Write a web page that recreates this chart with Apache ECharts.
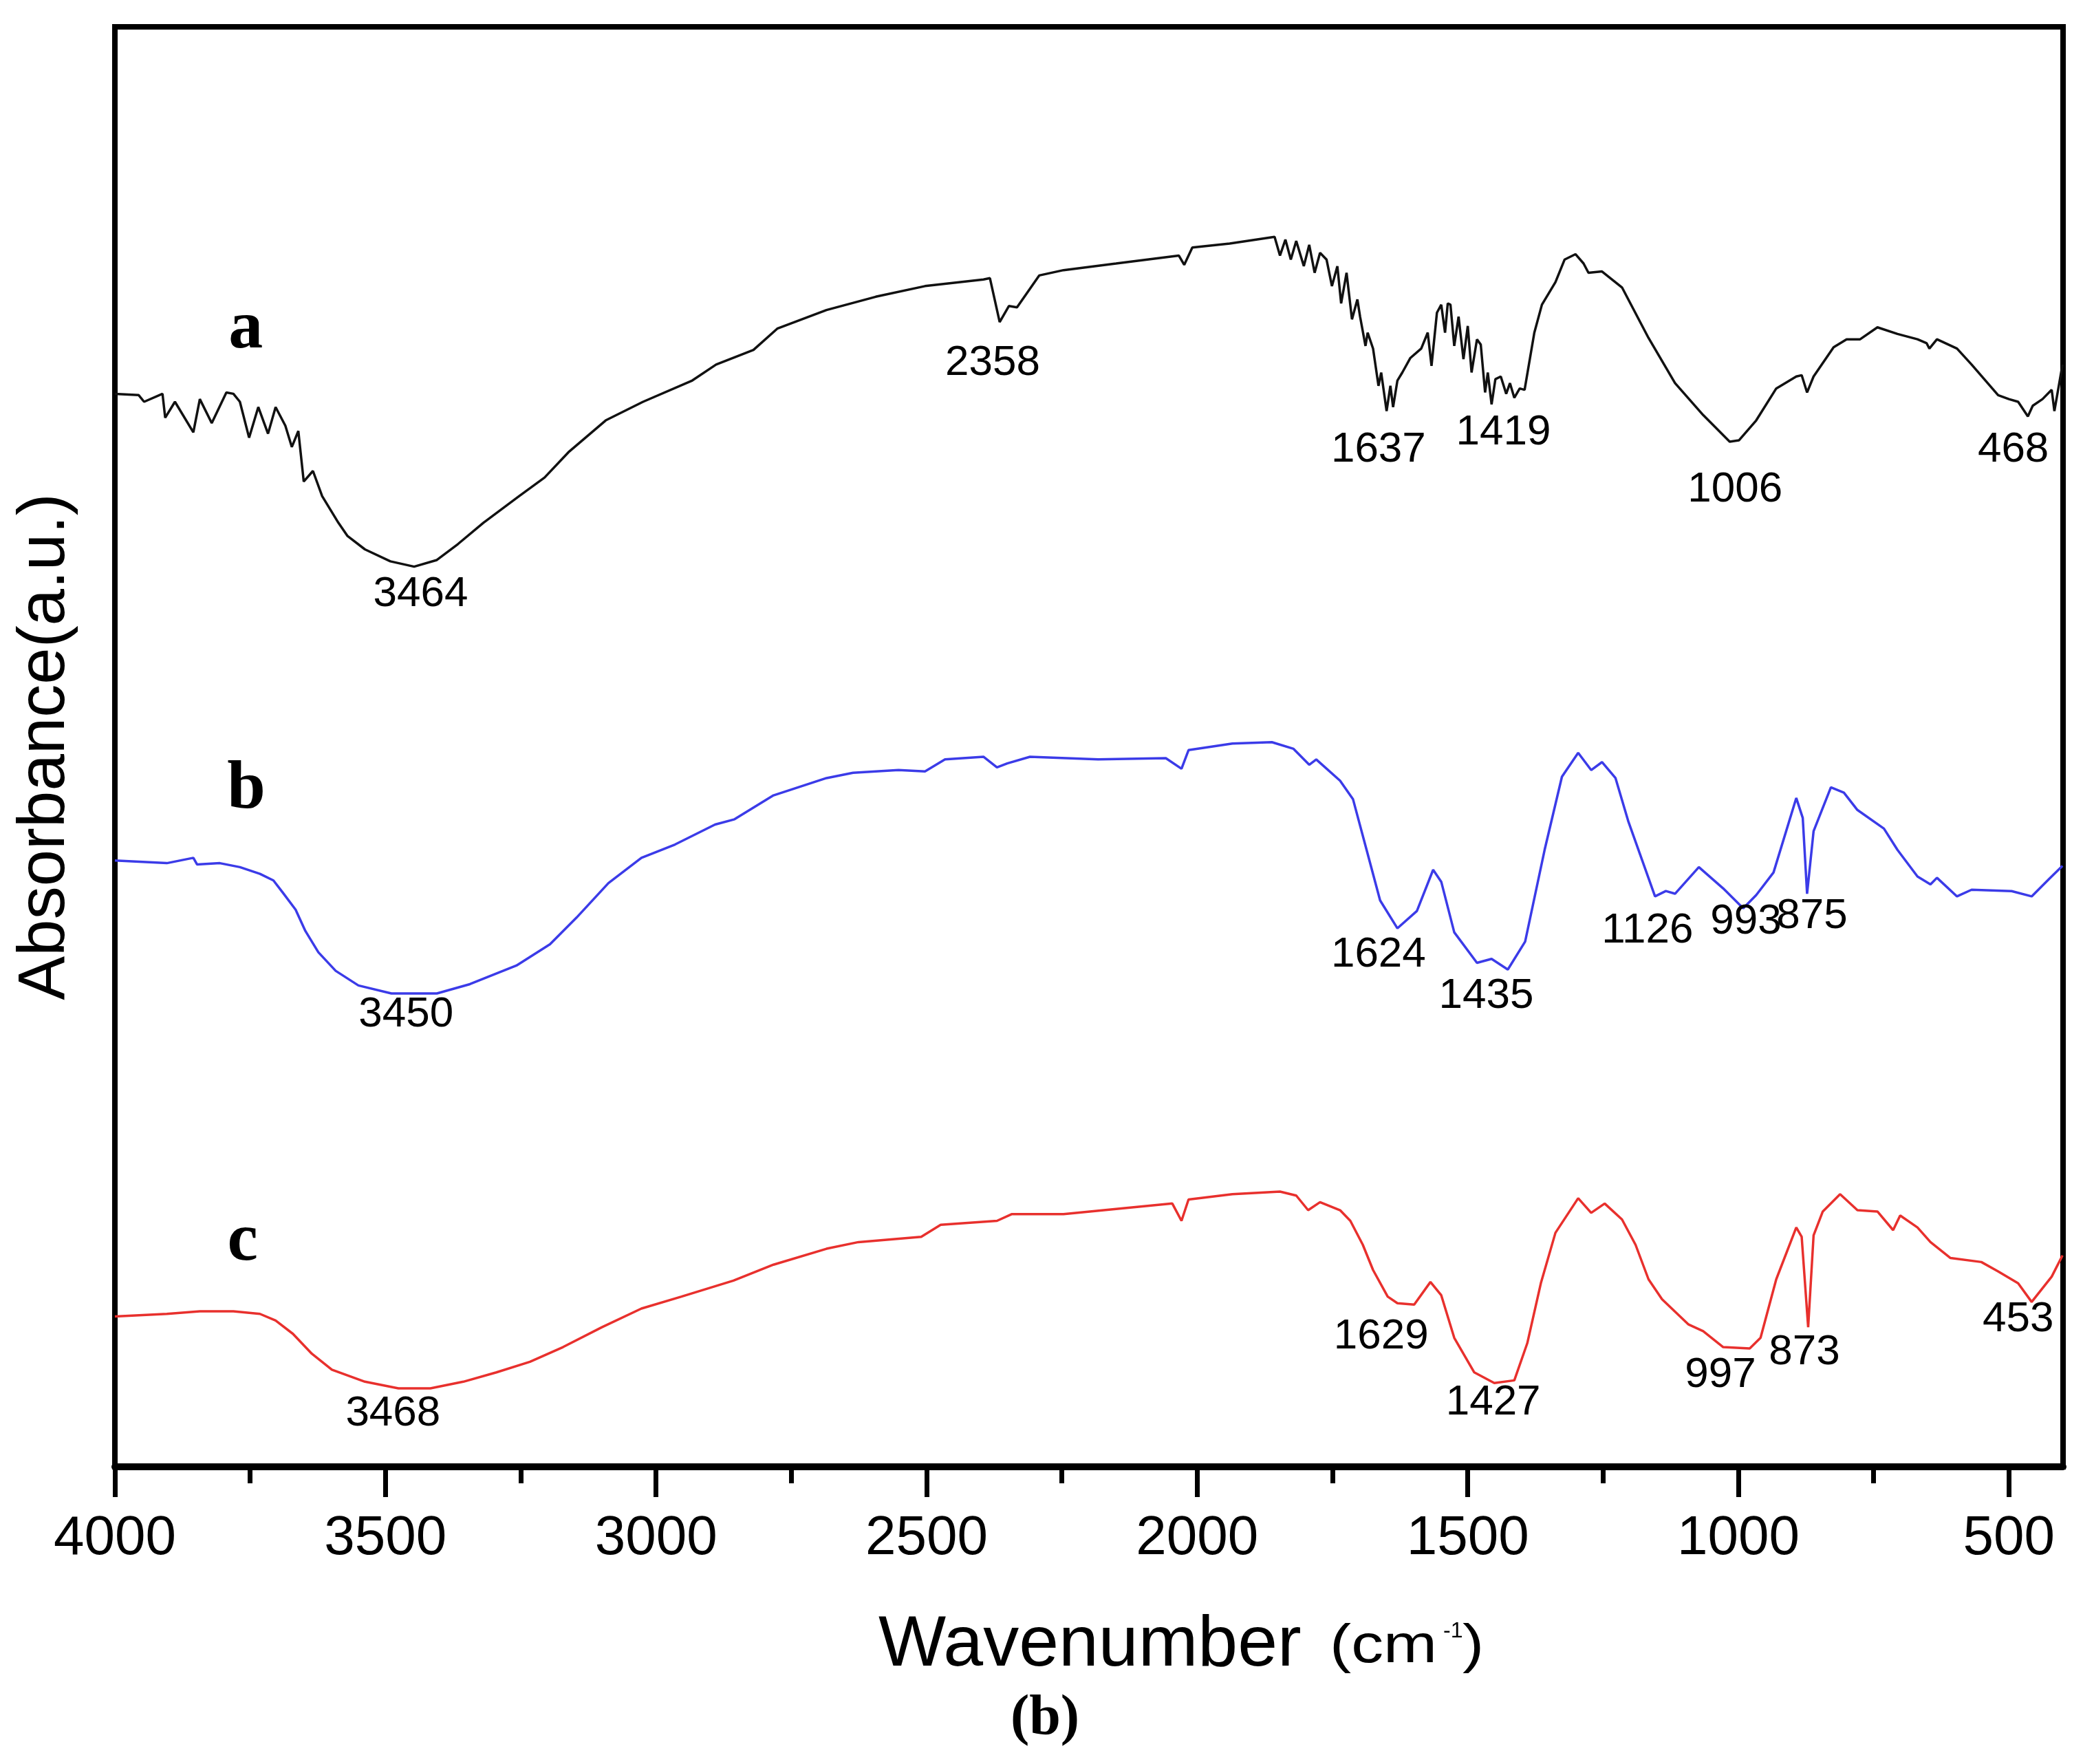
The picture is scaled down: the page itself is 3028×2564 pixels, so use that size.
<!DOCTYPE html>
<html>
<head>
<meta charset="utf-8">
<script src="https://cdn.jsdelivr.net/npm/echarts@6.0.0/dist/echarts.min.js"></script>
<style>
  html, body { margin: 0; padding: 0; background: #fff; }
  #chart { width: 3028px; height: 2564px; }
</style>
</head>
<body>
<div id="chart"></div>
<script>
// [wavenumber (cm-1), absorbance (a.u., offset per curve)]
const curveA = [
  [4000,80.7],[3956,80.6],[3946,80.1],[3912,80.7],[3907,78.9],[3889,80.1],[3855,77.8],[3843,80.3],
  [3821,78.5],[3794,80.8],[3781,80.7],[3769,80.1],[3752,77.4],[3735,79.7],[3717,77.7],[3703,79.7],
  [3685,78.3],[3673,76.7],[3661,77.9],[3651,74.1],[3634,74.9],[3617,73.0],[3587,71.0],[3570,70.0],
  [3538,69.0],[3491,68.1],[3447,67.7],[3405,68.2],[3366,69.4],[3319,71.0],[3253,73.0],[3206,74.4],
  [3162,76.3],[3093,78.7],[3024,80.1],[2933,81.7],[2889,82.9],[2820,84.0],[2776,85.6],[2685,87.0],
  [2594,88.0],[2503,88.8],[2395,89.3],[2383,89.4],[2365,86.1],[2348,87.3],[2333,87.2],[2292,89.6],
  [2247,90.0],[2150,90.5],[2034,91.1],[2024,90.4],[2009,91.7],[1940,92.0],[1874,92.4],[1857,92.5],[1847,91.1],
  [1837,92.3],[1827,90.8],[1817,92.2],[1803,90.3],[1793,91.9],[1783,89.8],[1773,91.3],[1761,90.8],
  [1751,88.8],[1741,90.3],[1734,87.5],[1724,89.8],[1714,86.3],[1704,87.8],[1699,86.5],[1689,84.3],
  [1685,85.3],[1675,84.1],[1665,81.3],[1660,82.3],[1650,79.4],[1643,81.3],[1638,79.7],[1630,81.7],
  [1621,82.3],[1606,83.4],[1586,84.1],[1574,85.3],[1567,82.8],[1557,86.8],[1549,87.4],[1542,85.3],
  [1537,87.5],[1532,87.4],[1525,84.3],[1517,86.5],[1508,83.3],[1500,85.8],[1493,82.3],[1483,84.8],
  [1476,84.4],[1468,80.8],[1463,82.3],[1456,79.9],[1449,81.8],[1439,82.0],[1429,80.7],[1422,81.5],
  [1414,80.4],[1404,81.1],[1395,81.0],[1377,85.3],[1363,87.4],[1338,89.1],[1321,90.8],[1301,91.2],
  [1286,90.5],[1277,89.8],[1252,89.9],[1215,88.7],[1166,84.9],[1117,81.5],[1065,79.1],[1016,77.1],
  [999,77.2],[967,78.7],[930,81.1],[893,82.0],[883,82.1],[873,80.8],[861,82.0],[824,84.2],
  [800,84.8],[775,84.8],[743,85.7],[706,85.2],[669,84.8],[652,84.5],[647,84.1],[633,84.8],
  [596,84.1],[569,82.9],[520,80.6],[500,80.3],[483,80.1],[465,79.0],[456,79.8],[438,80.3],
  [421,81.0],[416,79.4],[401,82.9]
];

const curveB = [
  [4000,45.6],[3904,45.4],[3855,45.8],[3848,45.3],[3806,45.4],[3769,45.1],[3732,44.6],[3707,44.1],
  [3690,43.2],[3666,41.9],[3648,40.3],[3624,38.7],[3592,37.3],[3550,36.2],[3489,35.6],[3405,35.6],
  [3344,36.3],[3258,37.7],[3196,39.3],[3147,41.3],[3088,43.9],[3027,45.8],[2965,46.8],[2891,48.3],
  [2855,48.7],[2783,50.5],[2685,51.8],[2636,52.2],[2552,52.4],[2503,52.3],[2466,53.2],[2395,53.4],
  [2370,52.6],[2351,52.9],[2309,53.4],[2183,53.2],[2058,53.3],[2029,52.5],[2016,53.9],[1935,54.4],
  [1862,54.5],[1822,54.0],[1793,52.8],[1780,53.2],[1736,51.6],[1712,50.2],[1687,46.4],[1662,42.6],
  [1630,40.5],[1594,41.8],[1564,44.9],[1549,44.0],[1525,40.2],[1483,37.9],[1456,38.2],[1426,37.4],
  [1394,39.5],[1358,46.4],[1326,51.9],[1296,53.7],[1272,52.4],[1252,53.0],[1227,51.8],[1203,48.5],
  [1154,42.9],[1134,43.3],[1117,43.1],[1073,45.1],[1028,43.5],[991,42.0],[967,43.0],[935,44.7],
  [893,50.3],[881,48.8],[873,43.1],[861,47.8],[829,51.1],[805,50.7],[780,49.4],[731,48.0],
  [706,46.4],[669,44.4],[645,43.8],[633,44.3],[596,42.9],[569,43.4],[495,43.3],[458,42.9],
  [426,44.2],[401,45.2]
];

const curveC = [
  [4000,11.3],[3904,11.5],[3843,11.7],[3781,11.7],[3732,11.5],[3703,11.0],[3671,10.0],[3636,8.5],
  [3599,7.3],[3538,6.4],[3476,5.9],[3417,5.9],[3356,6.4],[3295,7.1],[3233,7.9],[3172,9.0],
  [3100,10.5],[3027,11.9],[2953,12.8],[2857,14.0],[2783,15.2],[2685,16.4],[2626,16.9],[2510,17.3],
  [2474,18.2],[2370,18.5],[2343,19.0],[2247,19.0],[2124,19.5],[2046,19.8],[2029,18.5],[2016,20.1],
  [1935,20.5],[1847,20.7],[1817,20.4],[1795,19.3],[1773,19.9],[1736,19.3],[1717,18.5],[1694,16.7],
  [1675,14.8],[1648,12.8],[1630,12.3],[1599,12.2],[1569,13.9],[1549,12.9],[1525,9.7],[1488,7.1],
  [1451,6.3],[1414,6.5],[1390,9.3],[1365,13.8],[1338,17.6],[1296,20.2],[1272,19.1],[1247,19.8],
  [1215,18.6],[1190,16.7],[1166,14.1],[1141,12.6],[1092,10.7],[1065,10.2],[1028,9.0],[979,8.9],
  [959,9.7],[930,14.1],[893,18.0],[883,17.3],[871,10.5],[861,17.4],[844,19.2],[812,20.5],
  [780,19.3],[743,19.2],[714,17.8],[701,18.9],[669,18.0],[645,16.9],[608,15.7],[551,15.4],
  [520,14.7],[483,13.8],[458,12.4],[421,14.3],[401,15.9]
];

// peak annotations: [wavenumber, absorbance, text]
const peakLabels = [
  [3435,65.6,'3464'],[2378,83.0,'2358'],[1665,76.5,'1637'],[1434,77.8,'1419'],[1006,73.5,'1006'],[492,76.5,'468'],
  [3462,34.0,'3450'],[1665,38.5,'1624'],[1466,35.4,'1435'],[1168,40.3,'1126'],[986,41.0,'993'],[864,41.4,'875'],
  [3486,4.0,'3468'],[1660,9.8,'1629'],[1453,4.8,'1427'],[1033,6.9,'997'],[878,8.6,'873'],[483,11.1,'453']
];

const curveNames = [[3758,85.5,'a'],[3757,50.9,'b'],[3764,16.9,'c']];

const xMajorTicks = [4000, 3500, 3000, 2500, 2000, 1500, 1000, 500];
const xMinorTicks = [3750, 3250, 2750, 2250, 1750, 1250, 750];

const SANS = '"Liberation Sans", Arial, sans-serif';
const SERIF = '"Liberation Serif", "Times New Roman", serif';

const chart = echarts.init(document.getElementById('chart'));

const xBase = {
  type: 'value',
  inverse: true,
  min: 400,
  max: 4000,
  gridIndex: 0,
  position: 'bottom',
  splitLine: { show: false }
};

const lineSeries = (data, color) => ({
  type: 'line',
  data: data,
  showSymbol: false,
  symbol: 'none',
  lineStyle: { color: color, width: 3.5 },
  itemStyle: { color: color },
  z: 3
});

const titleGraphics = [
  { type: 'text', x: 1277, y: 2392,
    style: { text: 'Wavenumber', fontSize: 104, fontFamily: SANS, fill: '#000', align: 'left', verticalAlign: 'middle' } },
  { type: 'text', x: 1933, y: 2394, scaleX: 1.2,
    style: { text: '(cm', fontSize: 78, fontFamily: SANS, fill: '#000', align: 'left', verticalAlign: 'middle' } },
  { type: 'text', x: 2098, y: 2371,
    style: { text: '-1', fontSize: 32, fontFamily: SANS, fill: '#000', align: 'left', verticalAlign: 'middle' } },
  { type: 'text', x: 2126, y: 2394, scaleX: 1.2,
    style: { text: ')', fontSize: 78, fontFamily: SANS, fill: '#000', align: 'left', verticalAlign: 'middle' } },
  { type: 'text', x: 1519, y: 2499,
    style: { text: '(b)', fontSize: 82, fontFamily: SERIF, fontWeight: 'bold', fill: '#000', align: 'center', verticalAlign: 'middle' } }
];

const option = {
  animation: false,
  backgroundColor: '#fff',
  grid: {
    left: 167, right: 29, top: 39, bottom: 432,
    show: true, borderColor: '#000', borderWidth: 8
  },
  xAxis: [
    Object.assign({}, xBase, {
      axisLine: { show: true, lineStyle: { color: '#000', width: 10 } },
      axisTick: { show: true, customValues: xMajorTicks, length: 44, lineStyle: { color: '#000', width: 7 } },
      axisLabel: {
        customValues: xMajorTicks, fontSize: 80, color: '#000', fontFamily: SANS, margin: 65,
        formatter: v => String(v)
      }
    }),
    Object.assign({}, xBase, {
      axisLine: { show: false },
      axisTick: { show: true, customValues: xMinorTicks, length: 24, lineStyle: { color: '#000', width: 7 } },
      axisLabel: { show: false }
    })
  ],
  yAxis: {
    type: 'value',
    min: 0,
    max: 108.3,
    axisLine: { show: false },
    axisTick: { show: false },
    axisLabel: { show: false },
    splitLine: { show: false },
    name: 'Absorbance(a.u.)',
    nameLocation: 'middle',
    nameRotate: 90,
    nameGap: 52,
    nameTextStyle: { fontSize: 96, color: '#000', fontFamily: SANS }
  },
  series: [
    lineSeries(curveA, '#111111'),
    lineSeries(curveB, '#3b3be8'),
    lineSeries(curveC, '#e8302d')
  ],
  graphic: titleGraphics
};

chart.setOption(option);

// annotations sit at their data positions, converted through the chart's own axes
const textAt = (list, font) => list.map(([w, a, t]) => {
  const [px, py] = chart.convertToPixel({ seriesIndex: 0 }, [w, a]);
  return {
    type: 'text', x: px, y: py, z: 10,
    style: Object.assign({ text: t, fill: '#000', align: 'center', verticalAlign: 'middle' }, font)
  };
});

chart.setOption({
  graphic: titleGraphics.concat(
    textAt(peakLabels, { fontSize: 62, fontFamily: SANS }),
    textAt(curveNames, { fontSize: 100, fontFamily: SERIF, fontWeight: 'bold' })
  )
});
</script>
</body>
</html>
